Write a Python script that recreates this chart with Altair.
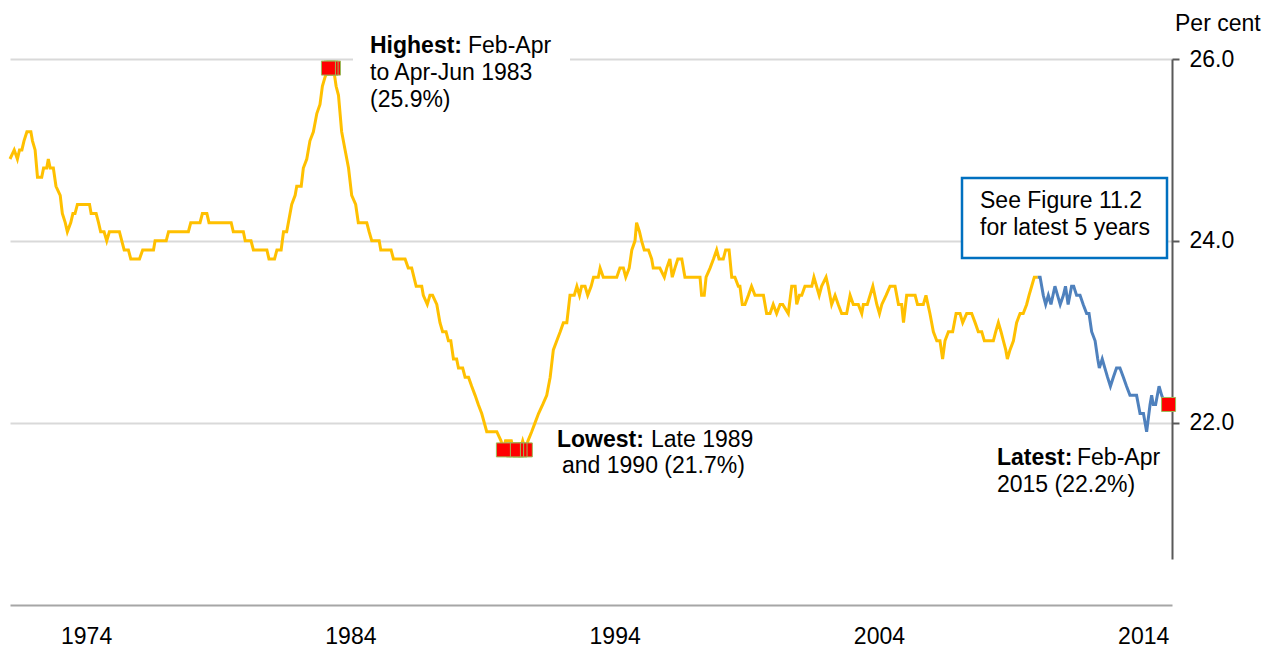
import altair as alt
import pandas as pd

# ---------------- data ----------------
years = [
    1971.12, 1971.28, 1971.40, 1971.48, 1971.57, 1971.65, 1971.76, 1971.91, 1971.97, 1972.07,
    1972.16, 1972.32, 1972.39, 1972.51, 1972.57, 1972.64, 1972.76, 1972.86, 1973.02, 1973.10,
    1973.21, 1973.29, 1973.42, 1973.50, 1973.58, 1973.67, 1974.13, 1974.19, 1974.38, 1974.47,
    1974.55, 1974.68, 1974.78, 1974.88, 1975.26, 1975.35, 1975.44, 1975.60, 1975.69, 1976.02,
    1976.14, 1976.55, 1976.61, 1977.03, 1977.12, 1977.87, 1977.96, 1978.31, 1978.40, 1978.57,
    1978.65, 1979.49, 1979.57, 1979.95, 1980.02, 1980.24, 1980.33, 1980.84, 1980.92, 1981.13,
    1981.22, 1981.38, 1981.47, 1981.59, 1981.78, 1981.91, 1981.97, 1982.14, 1982.22, 1982.35,
    1982.47, 1982.60, 1982.73, 1982.85, 1982.94, 1983.04, 1983.17, 1983.27, 1983.36, 1983.46,
    1983.55, 1983.67, 1983.80, 1983.93, 1984.05, 1984.20, 1984.30, 1984.62, 1984.71, 1984.81,
    1985.09, 1985.15, 1985.54, 1985.63, 1986.07, 1986.19, 1986.32, 1986.49, 1986.70, 1986.76,
    1986.91, 1987.01, 1987.11, 1987.27, 1987.39, 1987.49, 1987.62, 1987.71, 1987.80, 1987.90,
    1988.02, 1988.09, 1988.25, 1988.34, 1988.47, 1988.59, 1988.72, 1988.84, 1988.97, 1989.16,
    1989.54, 1989.70, 1989.79, 1989.87, 1990.09, 1990.17, 1990.29, 1990.42, 1990.52, 1990.62,
    1990.72, 1990.86, 1990.99, 1991.12, 1991.28, 1991.43, 1991.56, 1991.68, 1991.81, 1991.94,
    1992.06, 1992.19, 1992.31, 1992.47, 1992.57, 1992.67, 1992.75, 1992.88, 1992.98, 1993.11,
    1993.20, 1993.38, 1993.45, 1993.57, 1993.70, 1993.89, 1994.08, 1994.20, 1994.33, 1994.42,
    1994.55, 1994.65, 1994.77, 1994.83, 1994.94, 1995.02, 1995.12, 1995.28, 1995.40, 1995.46,
    1995.59, 1995.71, 1995.88, 1995.97, 1996.09, 1996.18, 1996.28, 1996.39, 1996.54, 1996.66,
    1996.79, 1996.92, 1997.11, 1997.23, 1997.29, 1997.39, 1997.46, 1997.61, 1997.74, 1997.86,
    1997.95, 1998.11, 1998.20, 1998.33, 1998.43, 1998.55, 1998.68, 1998.74, 1998.83, 1998.93,
    1999.06, 1999.18, 1999.31, 1999.41, 1999.54, 1999.63, 1999.75, 1999.88, 2000.00, 2000.13,
    2000.26, 2000.36, 2000.57, 2000.70, 2000.83, 2000.89, 2000.99, 2001.08, 2001.20, 2001.29,
    2001.37, 2001.46, 2001.54, 2001.64, 2001.74, 2001.83, 2002.00, 2002.08, 2002.21, 2002.34,
    2002.46, 2002.59, 2002.78, 2002.91, 2003.03, 2003.22, 2003.35, 2003.41, 2003.56, 2003.77,
    2003.92, 2004.02, 2004.11, 2004.27, 2004.42, 2004.61, 2004.74, 2004.86, 2004.93, 2005.05,
    2005.24, 2005.37, 2005.46, 2005.56, 2005.68, 2005.78, 2005.93, 2006.06, 2006.19, 2006.31,
    2006.41, 2006.50, 2006.63, 2006.69, 2006.79, 2006.92, 2007.07, 2007.17, 2007.32, 2007.51,
    2007.64, 2007.76, 2007.89, 2007.99, 2008.08, 2008.20, 2008.33, 2008.42, 2008.52, 2008.62,
    2008.71, 2008.80, 2008.86, 2008.96, 2009.09, 2009.21, 2009.34, 2009.46, 2009.59, 2009.68,
    2009.78, 2009.88, 2010.01, 2010.10, 2010.22, 2010.31, 2010.41, 2010.51, 2010.66, 2010.76,
    2010.86, 2010.98, 2011.06, 2011.16, 2011.29, 2011.37, 2011.48, 2011.61, 2011.73, 2011.86,
    2011.95, 2012.05, 2012.18, 2012.28, 2012.34, 2012.45, 2012.55, 2012.65, 2012.76, 2012.87,
    2012.99, 2013.12, 2013.25, 2013.37, 2013.50, 2013.62, 2013.75, 2013.88, 2014.01, 2014.13,
    2014.26, 2014.32, 2014.38, 2014.47, 2014.60, 2014.70, 2014.83, 2014.96,
]
rates = [
    24.9, 25.0, 24.9, 25.0, 25.0, 25.1, 25.2, 25.2, 25.1, 25.0,
    24.7, 24.7, 24.8, 24.8, 24.9, 24.8, 24.8, 24.6, 24.5, 24.3,
    24.2, 24.1, 24.2, 24.3, 24.3, 24.4, 24.4, 24.3, 24.3, 24.2,
    24.1, 24.1, 24.0, 24.1, 24.1, 24.0, 23.9, 23.9, 23.8, 23.8,
    23.9, 23.9, 24.0, 24.0, 24.1, 24.1, 24.2, 24.2, 24.3, 24.3,
    24.2, 24.2, 24.1, 24.1, 24.0, 24.0, 23.9, 23.9, 23.8, 23.8,
    23.9, 23.9, 24.1, 24.1, 24.4, 24.5, 24.6, 24.6, 24.8, 24.9,
    25.1, 25.2, 25.4, 25.5, 25.7, 25.8, 25.9, 25.9, 25.9, 25.7,
    25.6, 25.2, 25.0, 24.8, 24.5, 24.4, 24.2, 24.2, 24.1, 24.0,
    24.0, 23.9, 23.9, 23.8, 23.8, 23.7, 23.7, 23.5, 23.5, 23.4,
    23.3, 23.4, 23.4, 23.3, 23.1, 23.0, 23.0, 22.9, 22.9, 22.7,
    22.7, 22.6, 22.6, 22.5, 22.5, 22.4, 22.3, 22.2, 22.1, 21.9,
    21.9, 21.8, 21.7, 21.8, 21.8, 21.7, 21.7, 21.7, 21.8, 21.7,
    21.8, 21.9, 22.0, 22.1, 22.2, 22.3, 22.5, 22.8, 22.9, 23.0,
    23.1, 23.1, 23.4, 23.4, 23.5, 23.4, 23.5, 23.5, 23.4, 23.5,
    23.6, 23.6, 23.7, 23.6, 23.6, 23.6, 23.6, 23.7, 23.7, 23.6,
    23.7, 23.9, 24.0, 24.2, 24.1, 24.0, 23.9, 23.9, 23.8, 23.7,
    23.7, 23.7, 23.6, 23.7, 23.8, 23.6, 23.7, 23.8, 23.8, 23.6,
    23.6, 23.6, 23.6, 23.6, 23.4, 23.4, 23.6, 23.7, 23.8, 23.9,
    23.8, 23.8, 23.9, 23.9, 23.6, 23.6, 23.5, 23.5, 23.3, 23.3,
    23.4, 23.5, 23.4, 23.4, 23.4, 23.4, 23.2, 23.2, 23.3, 23.2,
    23.3, 23.3, 23.2, 23.5, 23.5, 23.3, 23.4, 23.4, 23.5, 23.5,
    23.5, 23.5, 23.6, 23.5, 23.4, 23.5, 23.6, 23.5, 23.3, 23.4,
    23.3, 23.2, 23.2, 23.4, 23.3, 23.3, 23.2, 23.3, 23.3, 23.5,
    23.3, 23.2, 23.3, 23.4, 23.5, 23.5, 23.3, 23.3, 23.1, 23.4,
    23.4, 23.4, 23.3, 23.3, 23.3, 23.4, 23.2, 23.0, 22.9, 22.9,
    22.7, 22.9, 23.0, 23.0, 23.0, 23.2, 23.2, 23.1, 23.2, 23.2,
    23.1, 23.0, 23.0, 22.9, 22.9, 22.9, 22.9, 23.0, 23.1, 23.0,
    22.9, 22.8, 22.7, 22.8, 22.9, 23.1, 23.2, 23.2, 23.3, 23.4,
    23.5, 23.6, 23.6, 23.6, 23.4, 23.3, 23.4, 23.3, 23.5, 23.4,
    23.3, 23.4, 23.5, 23.3, 23.5, 23.5, 23.4, 23.4, 23.3, 23.2,
    23.2, 23.0, 22.9, 22.7, 22.6, 22.7, 22.6, 22.5, 22.4, 22.5,
    22.6, 22.6, 22.5, 22.4, 22.3, 22.3, 22.3, 22.1, 22.1, 21.9,
    22.2, 22.3, 22.2, 22.2, 22.4, 22.3, 22.2, 22.2,
]
recent_start = 2010.01  # latest five years drawn in blue

# highlighted points (listed right-to-left so the leftmost square is drawn on top)
high_years = [1983.36, 1983.27, 1983.17]
high_rates = [25.9, 25.9, 25.9]
low_years = [1990.62, 1990.42, 1990.29, 1990.17, 1989.79]
low_rates = [21.7, 21.7, 21.7, 21.7, 21.7]
latest_years = [2014.96]
latest_rates = [22.2]

x_ticks = [1974, 1984, 1994, 2004, 2014]
y_ticks = [22, 24, 26]

FONT = "Liberation Sans, Arial, sans-serif"
FS = 23

df = pd.DataFrame({"year": years, "rate": rates})
df_old = df[df["year"] <= recent_start]
df_new = df[df["year"] >= recent_start]
df_marks = pd.DataFrame({
    "year": high_years + low_years + latest_years,
    "rate": high_rates + low_rates + latest_rates,
})

x_enc = alt.X(
    "year:Q",
    scale=alt.Scale(domain=[1971.12, 2015.09], nice=False, zero=False),
    axis=alt.Axis(
        values=x_ticks, format="d", grid=False, ticks=False, tickSize=0,
        domainColor="#A6A6A6", domainWidth=2, offset=46,
        labelFontSize=FS, labelFont=FONT, labelColor="#000000",
        labelPadding=20, title=None,
    ),
)
y_enc = alt.Y(
    "rate:Q",
    scale=alt.Scale(domain=[20.5, 26.0], nice=False, zero=False),
    axis=alt.Axis(
        orient="right", values=y_ticks, format=".1f",
        grid=True, gridColor="#D9D9D9", gridWidth=2,
        domainColor="#595959", domainWidth=2,
        tickColor="#595959", tickWidth=2, tickSize=7,
        labelFontSize=FS, labelFont=FONT, labelColor="#000000",
        labelPadding=10, title=None,
    ),
)

line_old = alt.Chart(df_old).mark_line(color="#FFC000", strokeWidth=3).encode(x=x_enc, y=y_enc)
line_new = alt.Chart(df_new).mark_line(color="#4F81BD", strokeWidth=3).encode(x=x_enc, y=y_enc)
markers = alt.Chart(df_marks).mark_point(
    shape="square", size=196, filled=True, fill="#FF0000", stroke="#9BBB59",
    strokeWidth=1, opacity=1,
).encode(x=x_enc, y=y_enc)

one = pd.DataFrame({"k": [0]})


def label(text, x, y, bold=False):
    return alt.Chart(pd.DataFrame({"t": [text]})).mark_text(
        align="left", baseline="alphabetic", fontSize=FS, font=FONT,
        fontWeight="bold" if bold else "normal", color="#000000",
    ).encode(x=alt.value(x), y=alt.value(y), text="t:N")


# white patch behind the "Highest" note (hides the 26.0 gridline there)
high_bg = alt.Chart(one).mark_rect(color="white").encode(
    x=alt.value(343), x2=alt.value(560), y=alt.value(-6), y2=alt.value(6)
)
# blue-bordered note box
note_box = alt.Chart(one).mark_rect(
    fill="white", stroke="#0070C0", strokeWidth=2.5
).encode(x=alt.value(952), x2=alt.value(1157), y=alt.value(119), y2=alt.value(199))

texts = [
    label("Highest:", 360, -6, bold=True),
    label("Feb-Apr", 458, -6),
    label("to Apr-Jun 1983", 360, 21),
    label("(25.9%)", 360, 48),
    label("Lowest:", 547, 388, bold=True),
    label("Late 1989", 641, 388),
    label("and 1990 (21.7%)", 552, 414),
    label("Latest:", 987, 406, bold=True),
    label("Feb-Apr", 1067, 406),
    label("2015 (22.2%)", 987, 433),
    label("See Figure 11.2", 970, 149),
    label("for latest 5 years", 970, 176),
    label("Per cent", 1165, -28),
]

chart = alt.layer(
    high_bg, note_box, line_old, line_new, markers, *texts
).properties(
    width=1162, height=500,
    autosize=alt.AutoSizeParams(type="none"),
    padding={"left": 2, "top": 51, "right": 90, "bottom": 88},
    background="white",
).configure_view(stroke=None)

chart.save("out.html", embed_options={"renderer": "svg", "actions": False})
